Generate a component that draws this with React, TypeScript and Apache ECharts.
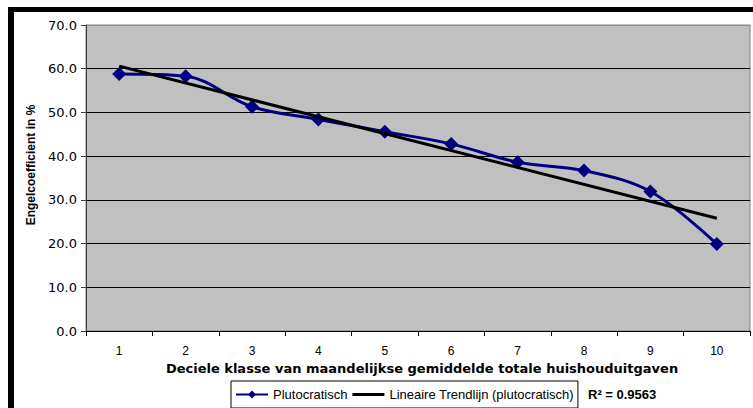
import React, { useEffect, useRef } from "react";
import * as echarts from "echarts";

// Decile classes (x axis categories)
const categories = ["1", "2", "3", "4", "5", "6", "7", "8", "9", "10"];
// Engel coefficient in % (plutocratic weighting)
const plutocratisch = [58.8, 58.3, 51.3, 48.4, 45.6, 42.8, 38.6, 36.7, 31.9, 19.9];
// Linear trend line values read at decile 1 and decile 10
const trendStart = 60.6;
const trendEnd = 25.8;
const rSquared = "0.9563";
const yTickLabels = ["0.0", "10.0", "20.0", "30.0", "40.0", "50.0", "60.0", "70.0"];

const seriesName = "Plutocratisch";
const trendName = "Lineaire Trendlijn (plutocratisch)";
const xTitle = "Deciele klasse van maandelijkse gemiddelde totale huishouduitgaven";
const yTitle = "Engelcoefficient in %";

export default function App() {
  const ref = useRef<HTMLDivElement>(null);

  useEffect(() => {
    if (!ref.current) return;
    const chart = echarts.init(ref.current, undefined, { renderer: "svg" });

    const trendData = categories.map((_, i) =>
      i === 0 ? trendStart : i === categories.length - 1 ? trendEnd : null
    );

    const gridLineColors = yTickLabels.map((_, i) =>
      i === yTickLabels.length - 1 ? "#8a8a8a" : "#000000"
    );

    chart.setOption({
      animation: false,
      backgroundColor: "#ffffff",
      grid: {
        left: 86,
        right: 3,
        top: 25,
        bottom: 77,
        show: true,
        backgroundColor: "#C0C0C0",
        borderColor: "#808080",
        borderWidth: 1,
      },
      legend: {
        left: 231,
        top: 381,
        orient: "horizontal",
        itemWidth: 32,
        itemHeight: 10,
        itemGap: 5,
        padding: [7, 4, 7, 4],
        borderColor: "#000",
        borderWidth: 1,
        backgroundColor: "#ffffff",
        textStyle: { fontFamily: "Liberation Sans", fontSize: 13, color: "#000" },
        data: [
          { name: seriesName },
          { name: trendName, icon: "path://M0,0H32V3H0Z" },
        ],
      },
      xAxis: {
        type: "category",
        data: categories,
        boundaryGap: true,
        axisLine: { lineStyle: { color: "#000", width: 1 } },
        axisTick: { show: true, length: 5, lineStyle: { color: "#000" } },
        axisLabel: {
          margin: 14,
          fontFamily: "Liberation Sans",
          fontSize: 12,
          color: "#000",
        },
        name: xTitle,
        nameLocation: "middle",
        nameGap: 29,
        nameTextStyle: {
          fontFamily: "DejaVu Sans",
          fontWeight: "bold",
          fontSize: 13,
          color: "#000",
          padding: [0, 0, 0, 8],
        },
      },
      yAxis: {
        type: "value",
        min: 0,
        max: 70,
        interval: 10,
        axisLine: { show: true, lineStyle: { color: "#404040", width: 1 } },
        axisTick: { show: true, length: 5, lineStyle: { color: "#404040" } },
        axisLabel: {
          margin: 9,
          fontFamily: "DejaVu Sans",
          fontSize: 13,
          color: "#000",
          formatter: (v: number) => yTickLabels[Math.round(v / 10)] ?? v.toFixed(1),
        },
        splitLine: { show: true, lineStyle: { color: gridLineColors, width: 1 } },
      },
      series: [
        {
          name: seriesName,
          type: "line",
          data: plutocratisch,
          smooth: 0.35,
          symbol: "diamond",
          symbolSize: 14,
          lineStyle: { color: "#000080", width: 3 },
          itemStyle: { color: "#000080" },
          z: 2,
        },
        {
          name: trendName,
          type: "line",
          data: trendData,
          connectNulls: true,
          symbol: "none",
          lineStyle: { color: "#000000", width: 3 },
          itemStyle: { color: "#000000" },
          z: 3,
        },
      ],
      graphic: [
        { type: "rect", shape: { x: 8, y: 7, width: 745, height: 5 }, style: { fill: "#000" } },
        { type: "rect", shape: { x: 8, y: 7, width: 6, height: 401 }, style: { fill: "#000" } },
        {
          type: "text",
          x: 31,
          y: 165,
          rotation: Math.PI / 2,
          style: {
            text: yTitle,
            font: 'bold 12px "Liberation Sans"',
            fill: "#000",
            align: "center",
            verticalAlign: "middle",
          },
        },
        {
          type: "text",
          x: 588,
          y: 394,
          style: {
            text: "R\u00B2 = " + rSquared,
            font: 'bold 13px "Liberation Sans"',
            fill: "#000",
            align: "left",
            verticalAlign: "middle",
          },
        },
      ],
    });

    return () => chart.dispose();
  }, []);

  return (
    <div
      ref={ref}
      style={{ position: "fixed", left: 0, top: 0, width: 753, height: 408 }}
    />
  );
}
